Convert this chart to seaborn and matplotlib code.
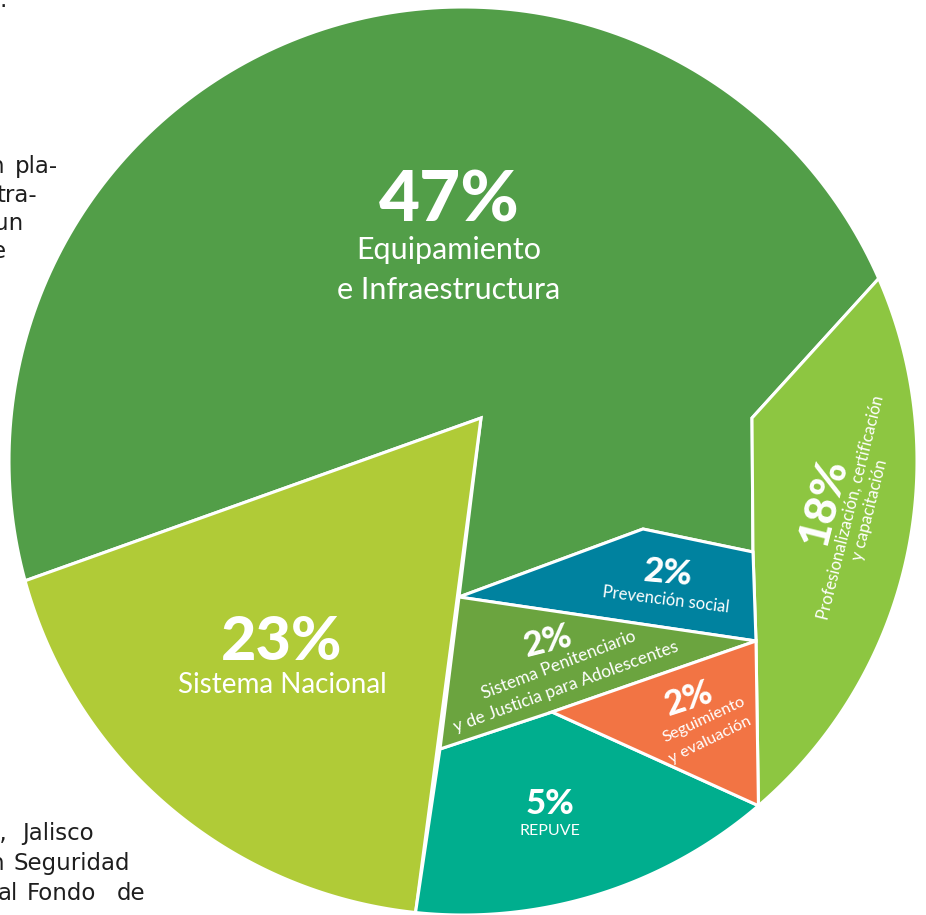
import numpy as np
import matplotlib
matplotlib.use("Agg")
import matplotlib.pyplot as plt
from matplotlib.patches import Polygon
import seaborn as sns

# ---------------- data ----------------
categories = [
    "Equipamiento e Infraestructura",
    "Sistema Nacional",
    "Profesionalización, certificación y capacitación",
    "REPUVE",
    "Prevención social",
    "Sistema Penitenciario y de Justicia para Adolescentes",
    "Seguimiento y evaluación",
]
percent = [47, 23, 18, 5, 2, 2, 2]
label_lines = [
    ["Equipamiento", "e Infraestructura"],
    ["Sistema Nacional"],
    ["Profesionalización, certificación", "y capacitación"],
    ["REPUVE"],
    ["Prevención social"],
    ["Sistema Penitenciario", "y de Justicia para Adolescentes"],
    ["Seguimiento", "y evaluación"],
]

# ---------------- style ----------------
colors = ["#529E48", "#B0CB37", "#8DC641", "#00AE8E", "#00829F", "#6BA43F", "#F27444"]

sns.set_theme(style="white")
plt.rcParams["font.family"] = ["Lato", "DejaVu Sans"]

W, H = 926, 915
fig = plt.figure(figsize=(W / 100, H / 100), dpi=100)
ax = fig.add_axes([0, 0, 1, 1])
ax.set_xlim(0, W)
ax.set_ylim(H, 0)
ax.set_aspect("equal")
ax.axis("off")

# ---------------- layout (shape of the infographic) ----------------
cx, cy, R = 463, 461, 454


def P(a):
    r = np.radians(a)
    return (cx + R * np.cos(r), cy - R * np.sin(r))


def arc(a1, a2, n=160):
    return [P(a) for a in np.linspace(a1, a2, n)]


b_top, b_left, b_bottom, b_right = 23.7, 195.3, 264.0, -49.4
A, V, D, E = (481, 418), (459, 597), (643, 529), (753, 552)
F, G, Hh, B = (752, 418), (756, 641), (552, 712), (440, 749)

shapes = [
    arc(b_top, b_left) + [A, V, D, E, F],
    arc(b_left, b_bottom) + [A],
    arc(b_right, b_top) + [F, E, G],
    arc(b_bottom, 360 + b_right) + [Hh, B],
    [V, D, E, G],
    [V, G, Hh, B],
    [Hh, P(b_right), G],
]

for pts, c in zip(shapes, colors):
    ax.add_patch(Polygon(pts, closed=True, facecolor=c, edgecolor="white",
                         linewidth=2.2, joinstyle="miter"))

# ---------------- labels ----------------
# (pct position, pct size, pct rotation, [line positions], line size, line rotations)
label_layout = [
    ((449, 201), 51, 0, [(449, 250), (449, 290)], 22, [0, 0]),
    ((282, 642), 44, 0, [(282, 685)], 20, [0]),
    ((823, 502), 32, 76, [(851, 507), (870, 510)], 12, [76, 76]),
    ((550, 804), 25, 0, [(550, 831)], 11.5, [0]),
    ((668, 573), 25, -5, [(666, 600)], 12, [-7]),
    ((548, 641), 25, 14, [(559, 665), (566, 687)], 12.5, [21, 20]),
    ((689, 699), 25, 18, [(704, 720), (710, 740)], 11.8, [25, 26]),
]

for pct, lines, lay in zip(percent, label_lines, label_layout):
    ppos, psize, prot, lpos, lsize, lrot = lay
    ax.text(ppos[0], ppos[1], f"{pct}%", color="white", fontsize=psize,
            fontweight="black", ha="center", va="center", rotation=prot,
            rotation_mode="anchor")
    for txt, pos, rot in zip(lines, lpos, lrot):
        ax.text(pos[0], pos[1], txt, color="white", fontsize=lsize,
                ha="center", va="center", rotation=rot, rotation_mode="anchor")

# ---------------- clipped page text on the left ----------------
side = dict(color="#1e1e1e", fontsize=16.5, family=["DejaVu Sans"], va="baseline")
ax.text(-1, 7, ".", ha="left", **side)
ax.text(5, 173, "n", ha="right", **side)
ax.text(58, 173, "pla-", ha="right", **side)
ax.text(37, 202, "tra-", ha="right", **side)
ax.text(23, 230, "un", ha="right", **side)
ax.text(6, 258, "e", ha="right", **side)
ax.text(7, 840, "y,", ha="right", **side)
ax.text(22, 840, "Jalisco", ha="left", **side)
ax.text(5, 870, "n", ha="right", **side)
ax.text(130, 870, "Seguridad", ha="right", **side)
ax.text(18, 900, "al", ha="right", **side)
ax.text(27, 900, "Fondo", ha="left", **side)
ax.text(145, 900, "de", ha="right", **side)

fig.savefig("out.png", dpi=100)
